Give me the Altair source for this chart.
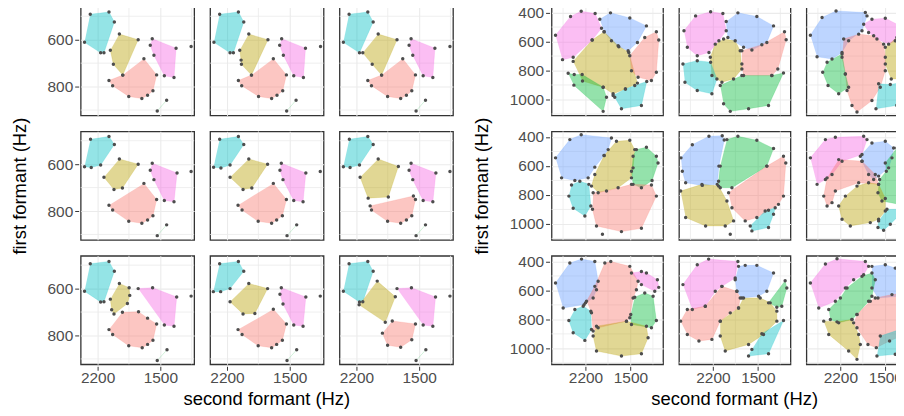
import altair as alt
import pandas as pd

# ---------------- colours (ggplot hue palette, 6 groups) ----------------
CATS = ["red", "olive", "green", "cyan", "blue", "pink"]
HUES = ["#F8766D", "#B79F00", "#00BA38", "#00BFC4", "#619CFF", "#F564E3"]

# ---------------- left block: second formant (x) / first formant (y), Hz ----------------
L11 = {
    "cyan": [(2282, 491), (2073, 482), (2013, 524), (2129, 656), (2166, 656), (2346, 611)],
    "olive": [(1957, 576), (1747, 600), (1919, 751), (2024, 705), (2058, 645)],
    "pink": [(1590, 596), (1324, 636), (1347, 761), (1455, 754), (1571, 666), (1612, 624)],
    "red": [(1683, 681), (1541, 750), (1582, 818), (1642, 837), (1706, 851), (1852, 842), (2032, 796), (2073, 774), (1919, 751)],
    "green": [(1429, 858), (1534, 904)],
    "pts": [(1156, 629)],
}
L12 = {
    "cyan": [(2282, 491), (2073, 482), (2013, 524), (2129, 656), (2166, 656), (2346, 611)],
    "olive": [(1957, 576), (1743, 600), (1927, 751), (2039, 705), (2043, 687), (2058, 645)],
    "pink": [(1590, 596), (1324, 636), (1347, 761), (1455, 754), (1571, 666), (1612, 624)],
    "red": [(1683, 681), (1537, 750), (1578, 818), (1642, 837), (1702, 851), (1848, 842), (2036, 796), (2073, 774), (1927, 751)],
    "green": [(1429, 858), (1534, 904)],
    "pts": [(1156, 629)],
}
L13 = {
    "cyan": [(2282, 491), (2073, 482), (2013, 524), (2166, 656), (2346, 611)],
    "olive": [(1957, 576), (1747, 600), (1919, 751), (2024, 705), (2129, 656)],
    "pink": [(1590, 596), (1324, 636), (1347, 761), (1455, 754), (1571, 666), (1612, 624)],
    "red": [(1683, 681), (1541, 750), (1582, 818), (1642, 837), (1706, 851), (1852, 842), (2032, 796), (2073, 774), (1919, 751)],
    "green": [(1429, 858), (1534, 904)],
    "pts": [(1156, 629)],
}
L21 = {
    "cyan": [(2279, 494), (2073, 482), (2013, 516), (2166, 604), (2271, 614), (2346, 611)],
    "olive": [(1957, 578), (1747, 600), (1923, 702), (2017, 708), (2129, 656)],
    "pink": [(1590, 596), (1313, 638), (1347, 760), (1455, 755), (1571, 666), (1612, 626)],
    "red": [(1683, 682), (1541, 751), (1582, 820), (1642, 838), (1706, 852), (1852, 844), (2032, 796), (2073, 775)],
    "green": [(1429, 859), (1534, 905)],
    "pts": [(1156, 631)],
}
L22 = {
    "cyan": [(2282, 494), (2073, 482), (2013, 516), (2166, 604), (2268, 616), (2350, 613)],
    "olive": [(1957, 578), (1747, 600), (1923, 702), (2021, 708), (2166, 656)],
    "pink": [(1594, 596), (1320, 638), (1351, 760), (1455, 755), (1575, 666), (1609, 626)],
    "red": [(1683, 682), (1537, 751), (1582, 820), (1646, 838), (1702, 852), (1852, 844), (2032, 796), (2077, 775)],
    "green": [(1422, 859), (1530, 905)],
    "pts": [(1159, 631)],
}
L23 = {
    "cyan": [(2279, 494), (2073, 482), (2013, 516), (2166, 604), (2271, 614), (2346, 611)],
    "olive": [(1957, 578), (1732, 610), (1844, 740), (2069, 745), (2159, 656)],
    "pink": [(1590, 596), (1313, 638), (1347, 760), (1455, 755), (1571, 666), (1612, 626)],
    "red": [(2047, 778), (1564, 736), (1541, 751), (1582, 820), (1642, 838), (1706, 852), (1852, 844), (2032, 796)],
    "green": [(1429, 859), (1534, 905)],
    "pts": [(1156, 631)],
}
L31 = {
    "cyan": [(2282, 494), (2073, 484), (2013, 526), (2129, 656), (2166, 657), (2346, 611)],
    "olive": [(1957, 578), (1848, 596), (1841, 629), (1867, 664), (2017, 708), (2043, 690), (2058, 645)],
    "pink": [(1747, 600), (1586, 596), (1317, 636), (1347, 761), (1455, 755)],
    "red": [(1923, 701), (1743, 699), (1642, 726), (1541, 751), (1582, 820), (1642, 838), (1702, 852), (1852, 844), (2032, 796), (2073, 775)],
    "green": [(1425, 861), (1534, 907)],
    "pts": [(1156, 632)],
}
L32 = {
    "cyan": [(2282, 494), (2073, 484), (2013, 526), (2166, 600), (2271, 613), (2353, 613)],
    "olive": [(1957, 578), (1747, 600), (1889, 706), (2021, 708), (2166, 656)],
    "pink": [(1594, 596), (1320, 636), (1351, 761), (1455, 755), (1575, 666), (1609, 624)],
    "red": [(1683, 688), (1537, 751), (1582, 820), (1646, 838), (1702, 852), (1852, 844), (2032, 796), (2077, 775)],
    "green": [(1422, 861), (1530, 907)],
    "pts": [(1159, 632)],
}
L33 = {
    "cyan": [(2282, 494), (2073, 484), (2013, 526), (2129, 656), (2166, 657), (2346, 611)],
    "olive": [(1968, 568), (1766, 635), (1878, 744), (2170, 669)],
    "pink": [(1747, 600), (1586, 596), (1317, 636), (1347, 761), (1455, 755)],
    "red": [(1800, 738), (1541, 751), (1582, 818), (1706, 850), (1852, 842), (1910, 790)],
    "green": [(1425, 861), (1534, 907)],
    "pts": [(1156, 632)],
}

# ---------------- right block ----------------
R11 = {
    "pink": [(2667, 556), (2433, 427), (2267, 391), (2050, 407), (1951, 508), (2096, 590), (2392, 709), (2558, 725)],
    "blue": [(1977, 446), (1811, 402), (1510, 437), (1251, 492), (1391, 606), (1536, 663), (1681, 636), (1796, 595), (1910, 533)],
    "olive": [(2392, 737), (2096, 590), (1910, 533), (1692, 629), (1526, 675), (1391, 887), (1578, 927), (1770, 961), (1925, 915), (2247, 873)],
    "red": [(1510, 698), (1277, 572), (1096, 533), (1059, 590), (1096, 812), (1173, 869), (1381, 847), (1484, 801)],
    "green": [(2470, 819), (2376, 828), (2252, 828), (1925, 915), (1873, 984), (1925, 1082), (2381, 901)],
    "cyan": [(1770, 973), (1578, 927), (1433, 904), (1246, 876), (1329, 1041), (1640, 1064), (1744, 984)],
}
R12 = {
    "pink": [(2651, 526), (2470, 423), (2236, 395), (2045, 407), (1993, 526), (2107, 595), (2262, 675), (2444, 698), (2599, 640)],
    "blue": [(1811, 402), (1516, 427), (1256, 492), (1360, 606), (1593, 659), (1723, 640), (1967, 572), (1993, 462)],
    "olive": [(2034, 583), (1853, 595), (1775, 663), (1749, 789), (1879, 858), (2060, 881), (2216, 835), (2241, 709), (2164, 618)],
    "red": [(1749, 663), (1438, 622), (1085, 533), (1059, 588), (1189, 789), (1282, 835), (1723, 835), (1749, 755)],
    "green": [(2086, 904), (1749, 835), (1282, 835), (1101, 817), (1334, 1041), (1645, 1064), (1930, 1082), (2034, 1030)],
    "cyan": [(2667, 755), (2444, 732), (2236, 743), (2138, 858), (2216, 961), (2444, 938), (2636, 881)],
}
R13 = {
    "blue": [(2667, 556), (2485, 434), (2267, 389), (1811, 400), (1785, 423), (1863, 526), (2071, 595), (2174, 675), (2330, 721), (2563, 705)],
    "pink": [(1837, 480), (1708, 446), (1500, 439), (1267, 492), (1345, 595), (1448, 618), (1630, 583), (1760, 537)],
    "red": [(2148, 583), (1915, 549), (1681, 560), (1526, 618), (1500, 709), (1500, 801), (1578, 915), (1708, 1007), (1941, 1087), (2019, 1041), (2096, 938), (2122, 824), (2174, 709)],
    "olive": [(1500, 640), (1319, 572), (1121, 549), (1018, 572), (1018, 847), (1199, 858), (1407, 858), (1500, 755)],
    "green": [(2407, 743), (2174, 686), (2122, 824), (2071, 915), (2226, 961), (2392, 904), (2475, 812)],
    "cyan": [(1604, 892), (1422, 897), (1241, 881), (1319, 1041), (1645, 1064)],
}
R21 = {
    "blue": [(2667, 544), (2444, 418), (2267, 384), (1796, 407), (1847, 487), (1910, 528), (2055, 608), (2159, 682), (2366, 700), (2573, 682)],
    "olive": [(2107, 739), (2055, 659), (1910, 528), (1718, 430), (1510, 423), (1433, 487), (1459, 613), (1484, 682), (1692, 750), (2003, 785)],
    "green": [(1459, 533), (1407, 487), (1251, 471), (1096, 533), (1070, 579), (1163, 700), (1329, 750), (1459, 727), (1484, 636)],
    "cyan": [(2418, 732), (2288, 705), (2148, 727), (2117, 876), (2210, 945), (2392, 892), (2459, 808)],
    "red": [(2081, 785), (1873, 773), (1484, 727), (1173, 732), (1096, 808), (1329, 1030), (1640, 1053), (2029, 1014), (2091, 899)],
    "pts": [(1936, 1071)],
}
R22 = {
    "blue": [(2698, 544), (2521, 453), (2262, 395), (2055, 391), (2024, 421), (2107, 601), (2133, 727), (2366, 734), (2625, 716), (2677, 636)],
    "green": [(1982, 418), (1811, 395), (1516, 423), (1256, 480), (1360, 601), (1904, 750), (2086, 750), (2112, 705), (2086, 601)],
    "olive": [(2703, 773), (2371, 727), (2112, 739), (1982, 842), (1878, 979), (2008, 1014), (2314, 1014), (2625, 956)],
    "red": [(1956, 785), (1360, 601), (1101, 533), (1065, 579), (1101, 808), (1179, 865), (1334, 906), (1516, 956), (1697, 979), (1904, 888)],
    "cyan": [(1619, 1014), (1386, 911), (1230, 888), (1256, 933), (1334, 1025), (1593, 1048)],
    "pts": [(1930, 1071)],
}
R23 = {
    "pink": [(2667, 544), (2433, 418), (2278, 402), (1837, 395), (1785, 418), (1863, 521), (2174, 567), (2330, 659), (2433, 693), (2563, 727)],
    "blue": [(1889, 533), (1708, 441), (1500, 430), (1370, 476), (1396, 544), (1448, 613), (1604, 670), (1681, 693), (1760, 659), (1863, 567)],
    "green": [(1500, 579), (1319, 476), (1189, 498), (1018, 521), (1018, 853), (1277, 865), (1552, 842), (1614, 785), (1588, 693), (1484, 636)],
    "red": [(2226, 556), (1863, 567), (1656, 659), (1604, 727), (1915, 716), (2278, 773), (2330, 853), (2407, 876), (2459, 808), (2407, 682)],
    "olive": [(1941, 739), (1760, 716), (1604, 727), (1500, 824), (1500, 911), (1604, 968), (1734, 991), (2045, 1014), (2174, 968), (2226, 876), (2122, 808)],
    "cyan": [(1474, 899), (1293, 899), (1241, 922), (1422, 1002), (1526, 1043), (1614, 1025), (1604, 979)],
}
R31 = {
    "blue": [(2667, 549), (2444, 411), (2262, 384), (2055, 400), (2003, 537), (2029, 595), (2081, 652), (2200, 686), (2221, 698), (2548, 721)],
    "red": [(2184, 675), (2055, 572), (1899, 411), (1806, 400), (1510, 434), (1381, 537), (1407, 595), (1459, 652), (1510, 789), (1562, 812), (2003, 858), (2081, 881), (2107, 755)],
    "pink": [(1484, 480), (1329, 469), (1251, 480), (1080, 526), (1059, 579), (1121, 606), (1329, 560)],
    "green": [(1433, 647), (1277, 618), (1147, 640), (1096, 808), (1173, 858), (1484, 835), (1495, 766)],
    "cyan": [(2366, 732), (2236, 709), (2117, 743), (2107, 869), (2210, 945), (2392, 892), (2459, 808)],
    "olive": [(2029, 847), (1562, 812), (1251, 847), (1225, 927), (1329, 1037), (1640, 1053), (2029, 1018), (2081, 915)],
}
R32 = {
    "pink": [(2667, 560), (2444, 423), (2267, 384), (1811, 400), (1853, 514), (2060, 572), (2164, 606), (2319, 709), (2521, 732)],
    "blue": [(1801, 434), (1697, 427), (1516, 427), (1256, 480), (1360, 606), (1489, 640), (1749, 652), (1827, 606), (1853, 526)],
    "green": [(1334, 686), (1075, 533), (1049, 583), (1127, 709), (1205, 716)],
    "red": [(2703, 812), (2599, 732), (2319, 709), (2060, 572), (1827, 606), (1775, 652), (1801, 721), (1930, 755), (2086, 812), (2216, 938), (2418, 949), (2599, 904)],
    "olive": [(2086, 812), (1801, 721), (1723, 652), (1464, 652), (1308, 686), (1204, 743), (1204, 812), (1412, 904), (1645, 973), (2008, 1018), (2086, 915)],
    "cyan": [(1438, 899), (1101, 808), (1334, 1037), (1645, 1053), (1593, 1007)],
}
R33 = {
    "pink": [(2667, 549), (2433, 418), (2252, 382), (1811, 400), (1760, 434), (1837, 492), (1993, 526), (2122, 583), (2278, 675), (2537, 721)],
    "blue": [(1708, 434), (1500, 423), (1345, 446), (1018, 503), (1018, 629), (1277, 640), (1614, 652), (1708, 583)],
    "green": [(2381, 732), (2200, 652), (2096, 583), (1863, 503), (1708, 480), (1656, 526), (1708, 640), (1760, 675), (1941, 766), (2019, 801), (2226, 824), (2356, 801)],
    "red": [(1941, 766), (1734, 675), (1656, 652), (1396, 629), (1018, 606), (1018, 858), (1199, 904), (1433, 949), (1640, 995), (1770, 973), (1941, 858), (1993, 824)],
    "olive": [(2459, 812), (2252, 817), (2019, 801), (1915, 904), (1889, 973), (1941, 1076), (2071, 1018), (2381, 904)],
    "cyan": [(1578, 915), (1267, 869), (1241, 892), (1345, 1041), (1630, 1053)],
}

LEFT = {(1, 1): L11, (1, 2): L12, (1, 3): L13, (2, 1): L21, (2, 2): L22, (2, 3): L23, (3, 1): L31, (3, 2): L32, (3, 3): L33}
RIGHT = {(1, 1): R11, (1, 2): R12, (1, 3): R13, (2, 1): R21, (2, 2): R22, (2, 3): R23, (3, 1): R31, (3, 2): R32, (3, 3): R33}

# axis breaks
L_XMAJOR, L_XMINOR = [2200, 1500], [1850, 1150]
L_YMAJOR, L_YMINOR = [600, 800], [500, 700, 900]
R_XMAJOR, R_XMINOR = [2200, 1500], [2550, 1850, 1150]
R_YMAJOR, R_YMINOR = [400, 600, 800, 1000], [500, 700, 900, 1100]

X_TITLE = "second formant (Hz)"
Y_TITLE = "first formant (Hz)"
FONT = "Liberation Sans"


def frame(panels, xminor, yminor):
    rows = []
    for (r, c), d in panels.items():
        for cat, verts in d.items():
            for i, (x, y) in enumerate(verts):
                rows.append(dict(r=r, c=c, kind="pt" if cat == "pts" else "poly",
                                 cat=cat, o=i, x=x, y=y))
        for v in xminor:
            rows.append(dict(r=r, c=c, kind="gx", cat="", o=0, x=v, y=None))
        for v in yminor:
            rows.append(dict(r=r, c=c, kind="gy", cat="", o=0, x=None, y=v))
    return pd.DataFrame(rows)


def block(panels, xdom, ydom, xmajor, xminor, ymajor, yminor, w, h, ytpad):
    df = frame(panels, xminor, yminor)
    xe = alt.X("x:Q", title=None,
               scale=alt.Scale(domain=xdom, reverse=True, nice=False, zero=False),
               axis=alt.Axis(values=xmajor, format="d"))
    ye = alt.Y("y:Q", title=None,
               scale=alt.Scale(domain=ydom, reverse=True, nice=False, zero=False),
               axis=alt.Axis(values=ymajor, format="d"))
    cscale = alt.Scale(domain=CATS, range=HUES)
    gx = alt.Chart().transform_filter("datum.kind == 'gx'").mark_rule(
        color="#EBEBEB", strokeWidth=0.8).encode(x=xe)
    gy = alt.Chart().transform_filter("datum.kind == 'gy'").mark_rule(
        color="#EBEBEB", strokeWidth=0.8).encode(y=ye)
    poly = alt.Chart().transform_filter("datum.kind == 'poly'").mark_line(
        fillOpacity=0.42, strokeOpacity=0.3, strokeWidth=0.6).encode(
        x=xe, y=ye, order="o:Q", detail="cat:N",
        fill=alt.Fill("cat:N", scale=cscale, legend=None),
        stroke=alt.Stroke("cat:N", scale=cscale, legend=None))
    pts = alt.Chart().transform_filter("datum.kind == 'poly' || datum.kind == 'pt'").mark_circle(
        size=12, color="#4D4D4D", opacity=1).encode(x=xe, y=ye)
    layered = alt.layer(gx, gy, poly, pts, data=df).properties(width=w, height=h)
    hdr = dict(labels=False, labelPadding=0, titleFont=FONT, titleFontSize=18.5,
               titleFontWeight="normal", titleColor="black")
    return layered.facet(
        row=alt.Row("r:O", header=alt.Header(title=Y_TITLE, titleOrient="left",
                                             labelOrient="left", titlePadding=ytpad, **hdr)),
        column=alt.Column("c:O", header=alt.Header(title=X_TITLE, titleOrient="bottom",
                                                   labelOrient="bottom", titlePadding=-6, **hdr)),
        spacing=12,
    )


left = block(LEFT, [1122, 2389], [460, 923], L_XMAJOR, L_XMINOR, L_YMAJOR, L_YMINOR, 114, 109, 7)
right = block(RIGHT, [992, 2729], [361, 1110], R_XMAJOR, R_XMINOR, R_YMAJOR, R_YMINOR, 112, 109, 7)

chart = alt.hconcat(left, right, spacing=18).properties(
    padding={"left": 3, "top": -4, "right": -24, "bottom": 0}
).configure_view(
    stroke="#333333", strokeWidth=1.3
).configure_axis(
    domain=False, grid=True, gridColor="#EBEBEB", gridWidth=1.1,
    tickColor="#333333", tickSize=4, tickWidth=1,
    labelColor="#4D4D4D", labelFont=FONT, labelFontSize=15.5,
).configure_axisX(
    labelPadding=0
).configure_axisY(
    labelPadding=2
)

chart.save("out.html", embed_options={"renderer": "svg", "actions": False})
